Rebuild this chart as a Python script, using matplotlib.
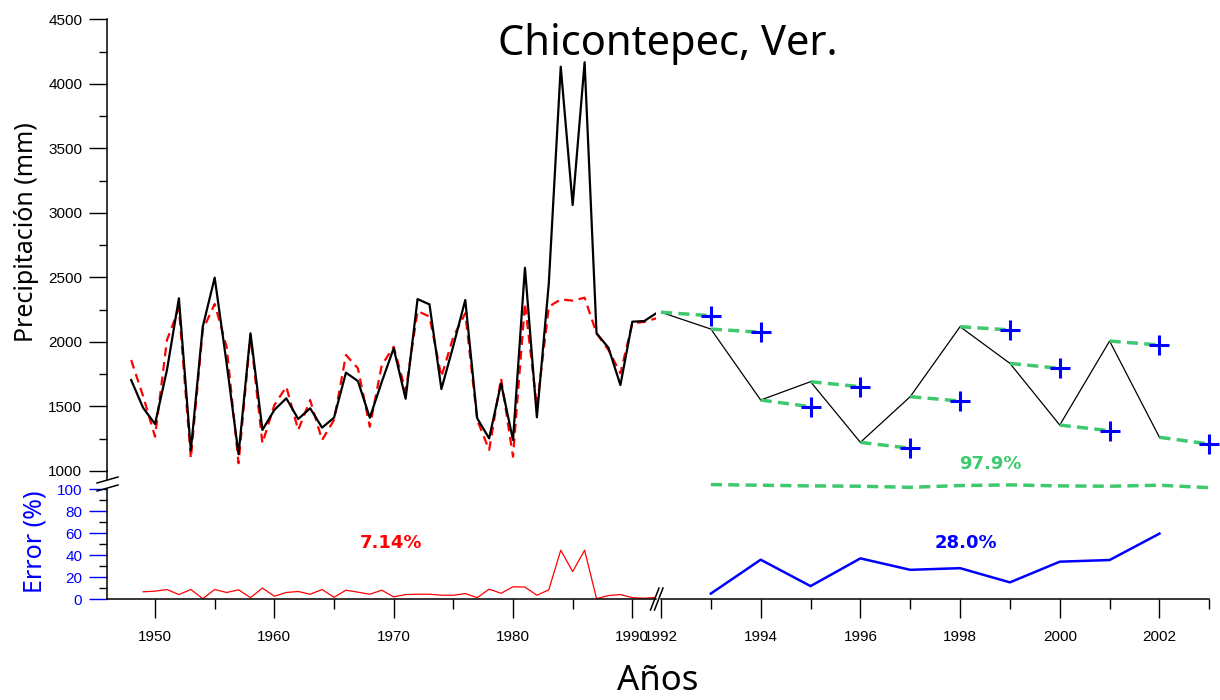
import numpy as np
import matplotlib
matplotlib.use("Agg")
import matplotlib.pyplot as plt
from matplotlib.lines import Line2D

plt.rcParams['font.family'] = ['Liberation Sans', 'DejaVu Sans']

# serie historica 1948-1992: observada (negra) y modelada (roja)
anios = np.arange(1948, 1993)
precip_obs = [1705, 1490, 1364, 1783, 2338, 1160, 2118, 2498, 1834, 1130,
              2067, 1318, 1473, 1563, 1403, 1486, 1336, 1413, 1762, 1697,
              1413, 1690, 1951, 1560, 2332, 2291, 1635, 1970, 2325, 1408,
              1253, 1679, 1240, 2575, 1416, 2454, 4133, 3061, 4167, 2067,
              1955, 1666, 2157, 2162, 2222]
precip_mod = [1860, 1580, 1266, 2015, 2261, 1098, 2093, 2294, 1963, 1060,
              2054, 1215, 1511, 1653, 1318, 1550, 1240, 1395, 1899, 1796,
              1343, 1820, 1963, 1620, 2240, 2196, 1731, 2040, 2222, 1395,
              1163, 1718, 1111, 2299, 1498, 2273, 2330, 2320, 2343, 2067,
              1938, 1757, 2145, 2155, 2183]

# error del modelo 1949-1992 (%)
anios_err = np.arange(1949, 1993)
error_mod = [6.8, 7.4, 8.9, 4.3, 8.9, 0.6, 8.9, 6.2, 8.6, 1.5, 10.2,
             2.8, 6.2, 7.1, 4.6, 8.9, 1.8, 8.3, 6.5, 4.6, 8.3, 2.2,
             4.3, 4.6, 4.6, 3.7, 3.7, 5.2, 1.5, 9.2, 5.5, 11.4, 11.1,
             3.7, 8.6, 44.6, 25.2, 44.6, 0.6, 3.4, 4.3, 1.5, 0.9, 1.8]

# periodo de pronostico
anios_val = np.arange(1992, 2003)
precip_val = [2230, 2100, 1550, 1692, 1222, 1576, 2118, 1834, 1356, 2007, 1261]
anios_pron = np.arange(1993, 2004)
pronostico = [2203, 2075, 1498, 1653, 1176, 1542, 2093, 1795, 1312, 1976, 1209]
anios_epron = np.arange(1993, 2003)
error_pron = [5.2, 36.0, 12.0, 37.2, 26.8, 28.3, 15.4, 34.2, 35.7, 59.7]
error_tend = [104.3, 103.7, 103.1, 102.8, 101.8, 103.4, 104.0, 103.1,
              102.8, 103.7, 101.5]

VERDE = '#3fc96f'
W, H = 1220, 700
fig = plt.figure(figsize=(W / 100, H / 100), dpi=100)


def px_axes(x0, y0, x1, y1):
    return fig.add_axes([x0 / W, 1 - y1 / H, (x1 - x0) / W, (y1 - y0) / H])


ax_p = px_axes(107.3, 19.3, 656.2, 471)
ax_f = px_axes(661, 19.3, 1209.3, 471)
ax_e = px_axes(107.3, 489.3, 656.2, 599.3)
ax_ef = px_axes(661, 489.3, 1209.3, 599.3)

for ax in (ax_p, ax_f, ax_e, ax_ef):
    ax.patch.set_alpha(0)
    for s in ax.spines.values():
        s.set_visible(False)
        s.set_linewidth(1.1)

# precipitacion, parte izquierda
ax_p.plot(anios, precip_mod, color='red', lw=1.6, ls=(0, (4, 2.6)))
ax_p.plot(anios, precip_obs, color='black', lw=1.6)
ax_p.set_xlim(1946, 1992)
ax_p.set_ylim(1000, 4500)
ax_p.spines['left'].set_visible(True)
ax_p.set_xticks([])
ax_p.set_yticks(np.arange(1000, 4501, 500))
ax_p.set_yticks(np.arange(1250, 4500, 500), minor=True)
ax_p.tick_params(axis='y', which='major', length=13, width=1, labelsize=11, pad=5)
ax_p.tick_params(axis='y', which='minor', length=6, width=1)

# precipitacion, parte derecha (pronostico)
ax_f.plot(anios_val, precip_val, color='black', lw=0.9)
for i in range(len(anios_val)):
    ax_f.plot([anios_val[i], anios_pron[i]], [precip_val[i], pronostico[i]],
              color=VERDE, lw=2.5, ls=(0, (3.2, 1.8)), clip_on=False)
ax_f.plot(anios_pron, pronostico, '+', color='blue', ms=14, mew=2.2, clip_on=False)
ax_f.set_xlim(1992, 2003)
ax_f.set_ylim(1000, 4500)
ax_f.set_xticks([])
ax_f.set_yticks([])

# error, parte izquierda
ax_e.plot(anios_err, error_mod, color='red', lw=0.9)
ax_e.set_xlim(1946, 1992)
ax_e.set_ylim(0, 100)
ax_e.spines['left'].set_visible(True)
ax_e.spines['bottom'].set_visible(True)
ax_e.set_yticks(np.arange(0, 101, 20))
ax_e.set_yticks(np.arange(10, 100, 20), minor=True)
ax_e.tick_params(axis='y', which='major', length=13, width=1, labelsize=11,
                 pad=5, colors='blue')
ax_e.tick_params(axis='y', which='minor', length=6, width=1, colors='black')
ax_e.set_xticks(np.arange(1950, 1991, 10))
ax_e.set_xticks(np.arange(1955, 1990, 10), minor=True)
ax_e.tick_params(axis='x', which='major', length=14, width=1, labelsize=11, pad=8)
ax_e.tick_params(axis='x', which='minor', length=7, width=1)

# error, parte derecha
ax_ef.plot(anios_epron, error_pron, color='blue', lw=1.8)
ax_ef.plot(anios_pron, error_tend, color=VERDE, lw=2.5, ls=(0, (3.2, 1.8)),
           clip_on=False)
ax_ef.set_xlim(1992, 2003)
ax_ef.set_ylim(0, 100)
ax_ef.spines['bottom'].set_visible(True)
ax_ef.set_yticks([])
ax_ef.set_xticks(np.arange(1992, 2003, 2))
ax_ef.set_xticks(np.arange(1993, 2004, 2), minor=True)
ax_ef.tick_params(axis='x', which='major', length=14, width=1, labelsize=11, pad=8)
ax_ef.tick_params(axis='x', which='minor', length=7, width=1)


def px_line(xs, ys, lw=1.1):
    fig.add_artist(Line2D([x / W for x in xs], [1 - y / H for y in ys],
                          color='black', lw=lw))


# marcas de corte de los ejes
px_line([107.3, 107.3], [471, 480])
px_line([97, 118], [483, 477])
px_line([97, 118], [491, 485])
px_line([650.5, 659], [610, 588])
px_line([654.5, 663], [610, 588])

SANS = ['Noto Sans', 'DejaVu Sans']
fig.text(668 / W, 1 - 55 / H, 'Chicontepec, Ver.', ha='center', va='baseline',
         fontsize=30, family=SANS)
fig.text(658 / W, 1 - 690 / H, 'Años', ha='center', va='baseline',
         fontsize=25, family=SANS)
fig.text(27 / W, 1 - 232 / H, 'Precipitación (mm)', ha='center', va='center',
         rotation=90, fontsize=18, family=SANS)
fig.text(35 / W, 1 - 542 / H, 'Error (%)', ha='center', va='center',
         rotation=90, fontsize=18, color='blue', family=SANS)

fig.text(391 / W, 1 - 543 / H, '7.14%', ha='center', va='center', fontsize=13,
         fontweight='bold', color='red', family='DejaVu Sans')
fig.text(966 / W, 1 - 543 / H, '28.0%', ha='center', va='center', fontsize=13,
         fontweight='bold', color='blue', family='DejaVu Sans')
fig.text(990 / W, 1 - 464 / H, '97.9%', ha='center', va='center', fontsize=13,
         fontweight='bold', color=VERDE, family='DejaVu Sans')

fig.savefig('out.png', dpi=100)
